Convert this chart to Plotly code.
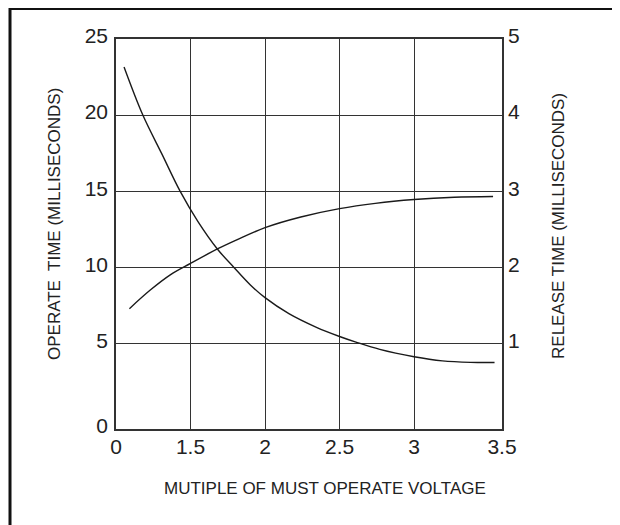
import plotly.graph_objects as go

# Operate time curve (left axis, ms)
operate_x = [1.054, 1.18, 1.31, 1.43, 1.55, 1.68, 1.79, 1.90, 2.0, 2.16, 2.345, 2.5, 2.61, 2.77, 3.0, 3.19, 3.38, 3.54]
operate_y = [23.16, 20.0, 17.4, 15.0, 13.0, 11.2, 10.0, 8.85, 8.0, 6.95, 6.05, 5.45, 5.08, 4.6, 4.12, 3.85, 3.75, 3.74]

# Release time curve (right axis, ms)
release_x = [1.09, 1.23, 1.364, 1.50, 1.68, 1.81, 2.0, 2.24, 2.5, 2.74, 3.0, 3.27, 3.53]
release_y = [1.456, 1.70, 1.90, 2.05, 2.24, 2.36, 2.52, 2.66, 2.77, 2.84, 2.89, 2.92, 2.93]

x_tickvals = [1.0, 1.5, 2.0, 2.5, 3.0, 3.59]
x_ticktext = ["0", "1.5", "2", "2.5", "3", "3.5"]
y_tickvals = [-0.63, 5, 10, 15, 20, 25]
y_ticktext = ["0", "5", "10", "15", "20", "25"]
y2_tickvals = [1, 2, 3, 4, 5]
y2_ticktext = ["1", "2", "3", "4", "5"]

FONT = "Liberation Sans, Arial, Helvetica, sans-serif"
TXT = "#222222"
LINE = "#1a1a1a"

fig = go.Figure()
fig.add_trace(go.Scatter(x=operate_x, y=operate_y, mode="lines", line=dict(color=LINE, width=1.4, shape="spline", smoothing=1.0), showlegend=False, hoverinfo="skip"))
fig.add_trace(go.Scatter(x=release_x, y=release_y, mode="lines", yaxis="y2", line=dict(color=LINE, width=1.4, shape="spline", smoothing=1.0), showlegend=False, hoverinfo="skip"))

# page body has an 8px margin, so the figure is 612x517 and offset by 8px
fig.update_layout(
    width=612, height=517,
    margin=dict(l=108, r=118, t=31, b=96),
    paper_bgcolor="white", plot_bgcolor="white",
    font=dict(family=FONT, color=TXT),
    xaxis=dict(range=[1.0, 3.59], tickvals=x_tickvals, ticktext=x_ticktext,
               showgrid=True, gridcolor="#333333", gridwidth=1,
               showline=True, linecolor="#333333", linewidth=1.5, mirror=True,
               ticks="", tickfont=dict(size=21, color=TXT, family=FONT), zeroline=False,
               ticklabelstandoff=-2),
    yaxis=dict(range=[-0.63, 25], tickvals=y_tickvals, ticktext=y_ticktext,
               showgrid=True, gridcolor="#333333", gridwidth=1,
               showline=True, linecolor="#333333", linewidth=1.5, mirror=True,
               ticks="", tickfont=dict(size=21, color=TXT, family=FONT), zeroline=False,
               ticklabelshift=-3, ticklabelstandoff=2),
    yaxis2=dict(range=[-0.126, 5], tickvals=y2_tickvals, ticktext=y2_ticktext,
                overlaying="y", side="right", showgrid=False, zeroline=False,
                showline=False, ticks="", tickfont=dict(size=21, color=TXT, family=FONT),
                ticklabelshift=-3, ticklabelstandoff=5),
    annotations=[
        dict(text="MUTIPLE OF MUST OPERATE VOLTAGE", xref="paper", yref="paper", x=0.5415, y=-0.152,
             showarrow=False, font=dict(size=17, color=TXT, family=FONT), xanchor="center", yanchor="middle"),
        dict(text="OPERATE\u00a0 TIME (MILLISECONDS)", xref="paper", yref="paper", x=-0.1606, y=0.5256,
             textangle=-90, showarrow=False, font=dict(size=17, color=TXT, family=FONT), xanchor="center", yanchor="middle"),
        dict(text="RELEASE TIME (MILLISECONDS)", xref="paper", yref="paper", x=1.145, y=0.5205,
             textangle=-90, showarrow=False, font=dict(size=17, color=TXT, family=FONT), xanchor="center", yanchor="middle"),
    ],
    shapes=[
        dict(type="path", xref="paper", yref="paper",
             path="M -0.2746,-0.27 L -0.2746,1.0782 L 1.32,1.0782",
             line=dict(color="#111111", width=3)),
    ],
)

fig.write_html("out.html")
